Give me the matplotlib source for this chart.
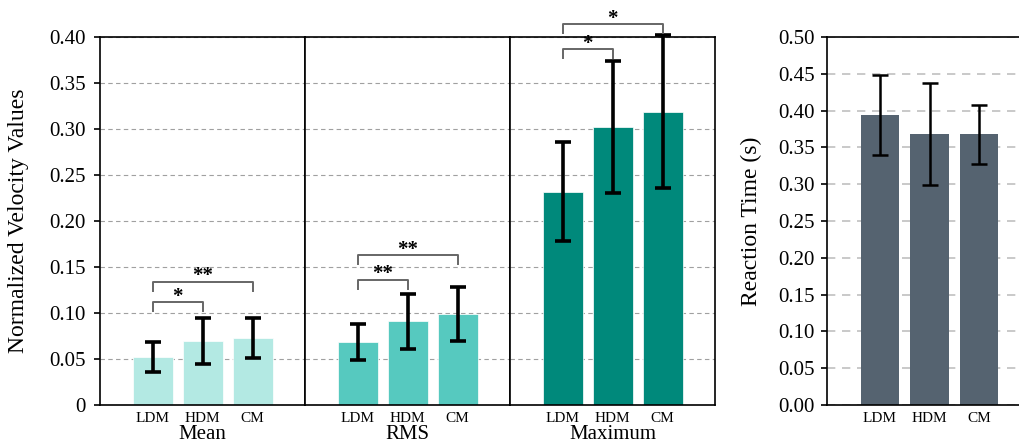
import matplotlib
matplotlib.use('Agg')
import matplotlib.pyplot as plt
import numpy as np

plt.rcParams['font.family'] = ['Liberation Serif', 'DejaVu Serif']

conditions = ['LDM', 'HDM', 'CM']
groups = ['Mean', 'RMS', 'Maximum']

mean_vals = [0.052, 0.070, 0.073]
mean_err = [0.016, 0.025, 0.022]
rms_vals = [0.0685, 0.091, 0.099]
rms_err = [0.0195, 0.030, 0.029]
max_vals = [0.232, 0.302, 0.319]
max_err = [0.054, 0.072, 0.083]

rt_vals = [0.394, 0.368, 0.368]
rt_err = [0.054, 0.069, 0.040]

# significance brackets: (i, j, height, label)
mean_sig = [(0, 1, 0.112, '*'), (0, 2, 0.134, '**')]
rms_sig = [(0, 1, 0.136, '**'), (0, 2, 0.163, '**')]
max_sig = [(0, 1, 0.387, '*'), (0, 2, 0.414, '*')]

colors = ['#b3e9e3', '#56c9bf', '#00897b']
rt_color = '#556370'

yticks_left = [0, 0.05, 0.10, 0.15, 0.20, 0.25, 0.30, 0.35, 0.40]
yticklabels_left = ['0', '0.05', '0.10', '0.15', '0.20', '0.25', '0.30', '0.35', '0.40']
yticks_right = [0.00, 0.05, 0.10, 0.15, 0.20, 0.25, 0.30, 0.35, 0.40, 0.45, 0.50]

W, H = 1019, 446
fig = plt.figure(figsize=(W / 100, H / 100), dpi=100)

bottom = (H - 405) / H
height = 368 / H
pw = 205 / W

x = np.arange(len(conditions))
vals_list = [mean_vals, rms_vals, max_vals]
err_list = [mean_err, rms_err, max_err]
sig_list = [mean_sig, rms_sig, max_sig]

for k in range(3):
    ax = fig.add_axes([(100 + 205 * k) / W, bottom, pw, height])
    ax.set_axisbelow(True)
    ax.bar(x, vals_list[k], width=0.8, color=colors[k], edgecolor='white', linewidth=0.5, zorder=2)
    ax.errorbar(x, vals_list[k], yerr=err_list[k], fmt='none', ecolor='black',
                elinewidth=2.6, capsize=6, capthick=2.6, zorder=3, clip_on=False)
    ax.set_xlim(-1.05, 3.05)
    ax.set_ylim(0, 0.40)
    ax.set_yticks(yticks_left)
    ax.yaxis.grid(True, linestyle=(0, (4, 3)), color='#a0a0a0', linewidth=0.8)
    ax.set_xticks(x)
    ax.set_xticklabels(conditions, fontsize=11)
    ax.tick_params(axis='x', length=0, pad=5)
    ax.set_xlabel(groups[k], fontsize=15, labelpad=0)
    for s in ax.spines.values():
        s.set_linewidth(1.2)
        s.set_color('black')
    if k == 0:
        ax.set_yticklabels(yticklabels_left, fontsize=15)
        ax.tick_params(axis='y', length=4, width=1.2, pad=6)
        ax.set_ylabel('Normalized Velocity Values', fontsize=17)
        ax.yaxis.set_label_coords(-0.345, 0.5)
    else:
        ax.tick_params(axis='y', length=0, labelleft=False)
    for (i, j, h, lab) in sig_list[k]:
        leg = 0.010
        ax.plot([x[i], x[i], x[j], x[j]], [h - leg, h, h, h - leg], color='#666666',
                linewidth=1.4, clip_on=False, zorder=4)
        ax.text((x[i] + x[j]) / 2, h - 0.005, lab, ha='center', va='bottom',
                fontsize=15, fontweight='bold', clip_on=False, zorder=5)

# Reaction time panel
ax = fig.add_axes([827 / W, bottom, pw, height])
ax.set_axisbelow(True)
ax.bar(x, rt_vals, width=0.77, color=rt_color, zorder=2)
ax.errorbar(x, rt_vals, yerr=rt_err, fmt='none', ecolor='black',
            elinewidth=1.8, capsize=6, capthick=1.8, zorder=3)
ax.set_xlim(-1.07, 3.07)
ax.set_ylim(0, 0.50)
ax.set_yticks(yticks_right)
ax.set_yticklabels(['%.2f' % v for v in yticks_right], fontsize=15)
ax.yaxis.grid(True, linestyle=(0, (5, 4)), color='#c0c0c0', linewidth=1.2)
ax.set_xticks(x)
ax.set_xticklabels(conditions, fontsize=11)
ax.tick_params(axis='x', length=0, pad=5)
ax.tick_params(axis='y', length=4, width=1.2, pad=5)
ax.set_ylabel('Reaction Time (s)', fontsize=17)
ax.yaxis.set_label_coords(-0.315, 0.5)
for s in ax.spines.values():
    s.set_linewidth(1.2)
    s.set_color('black')

fig.savefig('out.png', dpi=100)
